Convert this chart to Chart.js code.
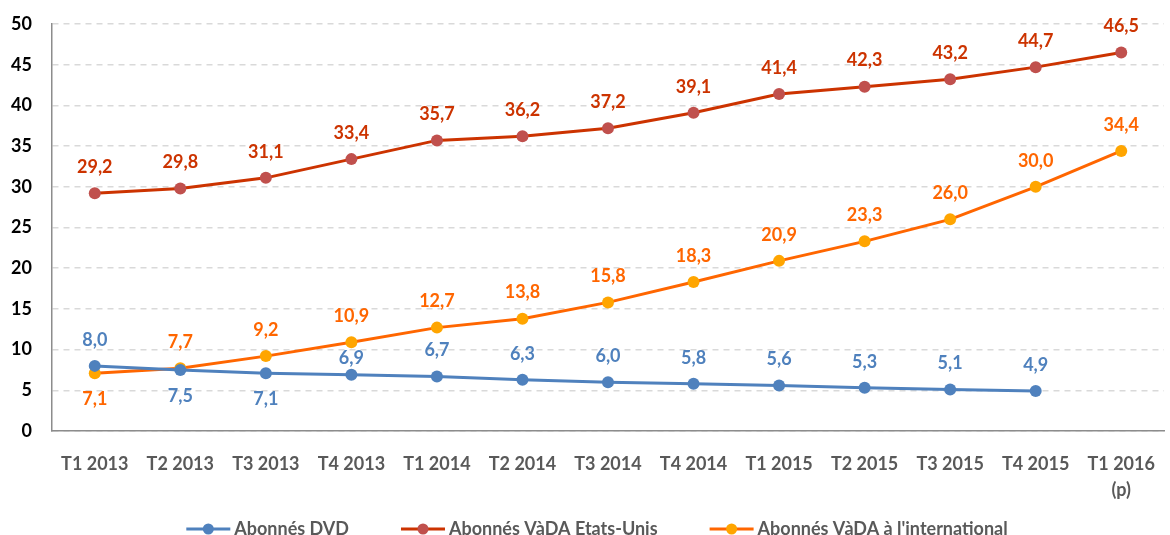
<!DOCTYPE html>
<html>
<head>
<meta charset="utf-8">
<script src="https://cdn.jsdelivr.net/npm/chart.js@4/dist/chart.umd.min.js"></script>
<style>
  html, body { margin: 0; padding: 0; background: #fff; overflow: hidden; }
  #wrap { width: 1170px; height: 535px; }
</style>
</head>
<body>
<div id="wrap"><canvas id="chart"></canvas></div>
<script>
const categories = ["T1 2013", "T2 2013", "T3 2013", "T4 2013", "T1 2014", "T2 2014", "T3 2014",
    "T4 2014", "T1 2015", "T2 2015", "T3 2015", "T4 2015", ["T1 2016", "(p)"]];
const dvd = [8.0, 7.5, 7.1, 6.9, 6.7, 6.3, 6.0, 5.8, 5.6, 5.3, 5.1, 4.9, null];
const vadaUS = [29.2, 29.8, 31.1, 33.4, 35.7, 36.2, 37.2, 39.1, 41.4, 42.3, 43.2, 44.7, 46.5];
const vadaIntl = [7.1, 7.7, 9.2, 10.9, 12.7, 13.8, 15.8, 18.3, 20.9, 23.3, 26.0, 30.0, 34.4];
const seriesNames = ["Abonnés DVD", "Abonnés VàDA Etats-Unis", "Abonnés VàDA à l'international"];
// labels drawn below the point instead of above
const dvdBelow = [1, 2];
const intlBelow = [0];
// labels pulled closer to their point
const dvdTight = [3];

const FONT = "Lato, 'Open Sans', sans-serif";

const valueLabels = {
    id: "valueLabels",
    afterDatasetsDraw(chart) {
        let ctx = chart.ctx;
        ctx.save();
        ctx.font = "bold 18px " + FONT;
        ctx.textAlign = "center";
        ctx.textBaseline = "middle";
        chart.data.datasets.forEach((ds, i) => {
            let meta = chart.getDatasetMeta(i);
            meta.data.forEach((pt, j) => {
                let v = ds.data[j];
                if (v === null) return;
                let dy = -26;
                if (ds.below.includes(j)) dy = 26;
                else if (ds.tight.includes(j)) dy = -17;
                ctx.fillStyle = ds.labelColor;
                ctx.fillText(v.toFixed(1).replace(".", ","), pt.x, pt.y + dy);
            });
        });
        ctx.restore();
    }
};

// legend at the bottom: line + dot + text, centred
const bottomLegend = {
    id: "bottomLegend",
    afterDraw(chart) {
        let ctx = chart.ctx;
        ctx.save();
        ctx.font = "bold 18px " + FONT;
        ctx.textBaseline = "middle";
        let iconW = 44, iconGap = 4, itemGap = 52;
        let ds = chart.data.datasets;
        let widths = ds.map(d => iconW + iconGap + ctx.measureText(d.label).width);
        let total = widths.reduce((a, b) => a + b, 0) + itemGap * (ds.length - 1);
        let x = 597 - total / 2;
        let y = 529;
        ds.forEach((d, i) => {
            ctx.strokeStyle = d.borderColor;
            ctx.lineWidth = 3;
            ctx.beginPath(); ctx.moveTo(x, y); ctx.lineTo(x + iconW, y); ctx.stroke();
            ctx.fillStyle = d.backgroundColor;
            ctx.beginPath(); ctx.arc(x + iconW / 2, y, 5.5, 0, Math.PI * 2); ctx.fill();
            ctx.fillStyle = "#595959";
            ctx.fillText(d.label, x + iconW + iconGap, y);
            x += widths[i] + itemGap;
        });
        ctx.restore();
    }
};

let ctx = document.getElementById("chart").getContext("2d");

let chart = new Chart(ctx, {
    type: "line",
    data: {
        labels: categories,
        datasets: [{
            label: seriesNames[0],
            data: dvd,
            borderColor: "#4f81bd",
            backgroundColor: "#4f81bd",
            labelColor: "#4f81bd",
            below: dvdBelow,
            tight: dvdTight
        }, {
            label: seriesNames[1],
            data: vadaUS,
            borderColor: "#cc3300",
            backgroundColor: "#c0504d",
            labelColor: "#cc3300",
            below: [],
            tight: []
        }, {
            label: seriesNames[2],
            data: vadaIntl,
            borderColor: "#ff6600",
            backgroundColor: "#ffa500",
            labelColor: "#ff6600",
            below: intlBelow,
            tight: []
        }]
    },
    options: {
        responsive: true,
        maintainAspectRatio: false,
        animation: false,
        layout: { autoPadding: false, padding: { top: 24, right: 6, left: 0, bottom: 0 } },
        elements: {
            line: { borderWidth: 3, tension: 0 },
            point: { radius: 6, pointStyle: "circle", borderWidth: 0 }
        },
        plugins: {
            tooltip: { enabled: false },
            legend: { display: false }
        },
        scales: {
            x: {
                offset: true,
                afterFit(scale) { scale.height = 104; scale.paddingLeft = 0; scale.paddingRight = 0; },
                grid: { display: false, drawTicks: false },
                border: { color: "#8c8c8c", width: 1.5 },
                ticks: {
                    color: "#595959",
                    padding: 20,
                    maxRotation: 0,
                    autoSkip: false,
                    font: { family: FONT, size: 18, weight: "bold", lineHeight: 1.45 }
                }
            },
            y: {
                min: 0,
                max: 50,
                afterFit(scale) { scale.width = 52; scale.paddingTop = 0; scale.paddingBottom = 0; },
                grid: {
                    color: "#d9d9d9",
                    lineWidth: 1.5,
                    drawTicks: false
                },
                border: { color: "#8c8c8c", width: 1.5, dash: [6, 5] },
                ticks: {
                    stepSize: 5,
                    color: "#000000",
                    padding: 20,
                    font: { family: FONT, size: 18, weight: "bold" }
                }
            }
        }
    },
    plugins: [valueLabels, bottomLegend]
});
</script>
</body>
</html>
